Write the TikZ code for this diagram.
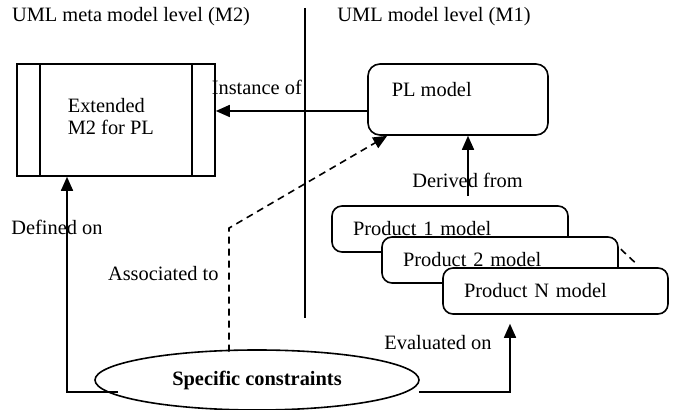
\documentclass[tikz,border=0pt]{standalone}
\usepackage{fontspec}
\setmainfont{Liberation Serif}
\usetikzlibrary{positioning,shapes.geometric,arrows.meta}

\begin{document}
\begin{tikzpicture}[x=0.5pt, y=-0.5pt, line width=0.8pt,
    every node/.style={font=\fontsize{10.2}{11}\selectfont},
    arr/.style={-{Triangle[length=7pt,width=6pt]}},
    dsh/.style={dash pattern=on 3.5pt off 2.5pt},
    prodbox/.style={draw, rectangle, rounded corners=5pt, fill=white, minimum height=23pt,
      inner xsep=10.5pt, inner ysep=0pt, text width=97pt, align=left}]
  \useasboundingbox (0,0) rectangle (675,410);

  % level titles and divider
  \node (m2title) at (131,17) {UML meta model level (M2)};
  \node (m1title) at (434,17) {UML model level (M1)};
  \coordinate (divtop) at (305,8);
  \coordinate (divbot) at (305,318);
  \draw (divtop) -- (divbot);

  % M2 side
  \node[draw, rectangle, minimum width=99pt, minimum height=56pt] (ext) at (116,120) {};
  \draw ([xshift=12pt]ext.north west) -- ([xshift=12pt]ext.south west);
  \draw ([xshift=-12pt]ext.north east) -- ([xshift=-12pt]ext.south east);
  \node[anchor=west, inner sep=0pt, align=left] (exttxt) at (67,117) {Extended\\M2 for PL};

  % M1 side
  \node[draw, rectangle, rounded corners=6pt, minimum width=90pt, minimum height=35.5pt] (plm) at (458,99.5) {};
  \node[anchor=west, inner sep=0pt] (plmtxt) at (391,90) {PL model};

  \node[prodbox] (p1) at (450,229) {Product 1 model};
  \node[prodbox] (p2) at ([shift={(25pt,-15.5pt)}]p1) {Product 2 model};
  \node[prodbox, text width=91.5pt] (pn) at (555.5,291) {Product N model};
  \draw[dsh] ([shift={(1pt,-6.5pt)}]p2.north east) -- ([shift={(-16pt,1.5pt)}]pn.north east);

  % constraints
  \node[draw, ellipse, minimum width=162pt, minimum height=30pt, inner sep=0pt] (sc) at (257,380) {\textbf{Specific constraints}};

  % connectors
  \draw[arr] ([yshift=-5.75pt]plm.west) -- ([yshift=4.5pt]ext.east);
  \node[anchor=west, inner sep=0pt] (inst) at (211,87) {Instance of};

  \draw[arr, shorten <=4.5pt] ([xshift=9pt]p1.north) -- ([xshift=5pt]plm.south);
  \node (derv) at (467.5,180) {Derived from};

  \draw[arr] ([shift={(-69.5pt,-6pt)}]sc.center) -| ([xshift=-24.5pt]ext.south);
  \node (defn) at (57,227) {Defined on};

  \draw[arr, shorten >=4.5pt] ([shift={(-0.5pt,-6pt)}]sc.east) -| ([xshift=-22.75pt]pn.south);
  \node[anchor=east] (eval) at (499,343) {Evaluated on};

  \draw[arr, dsh] ([shift={(-14pt,-1.2pt)}]sc.north) -- ++(0,61.75pt) -- ([xshift=10pt]plm.south west);
  \node[anchor=east] (assc) at (226,274) {Associated to};
\end{tikzpicture}
\end{document}
